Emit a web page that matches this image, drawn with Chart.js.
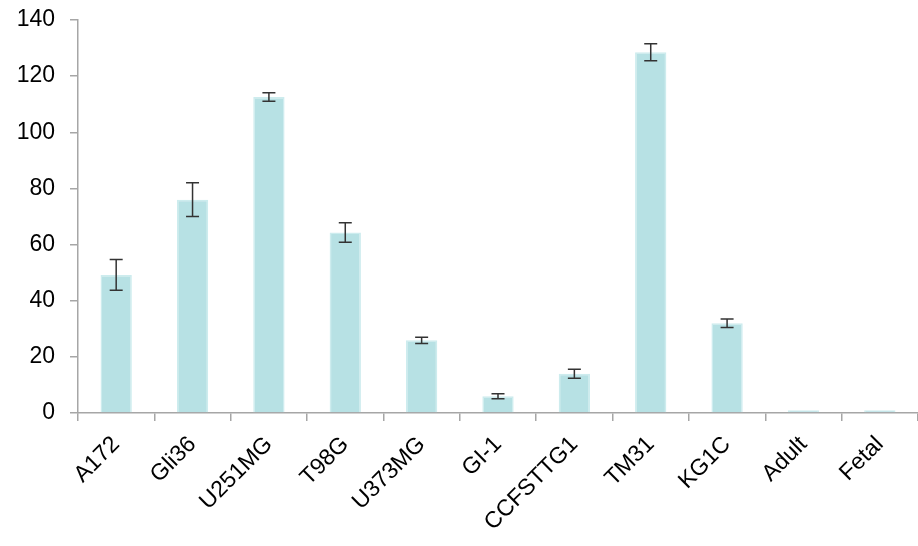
<!DOCTYPE html>
<html>
<head>
<meta charset="utf-8">
<script src="https://cdn.jsdelivr.net/npm/chart.js@4.4.0/dist/chart.umd.min.js"></script>
<style>
    html, body { margin: 0; padding: 0; background: #fff; }
    #wrap { width: 918px; height: 546px; }
</style>
</head>
<body>
<div id="wrap"><canvas id="barChart"></canvas></div>
<script>
// --- data ---
const categories = ['A172', 'Gli36', 'U251MG', 'T98G', 'U373MG', 'GI-1', 'CCFSTTG1', 'TM31', 'KG1C', 'Adult', 'Fetal'];
const values = [49.2, 76, 112.6, 64.3, 25.9, 6, 14, 128.5, 32, 1, 1];
const errors = [5.5, 6, 1.5, 3.5, 1.1, 0.9, 1.6, 3, 1.5, 0, 0];
const yTicks = [0, 20, 40, 60, 80, 100, 120, 140];

const axisColor = '#a6a6a6';
const fontFamily = "'Liberation Sans', Arial, sans-serif";

// --- error bar plugin ---
const errorBars = {
    id: 'errorBars',
    afterDatasetsDraw(chart) {
        const { ctx, scales: { x, y } } = chart;
        ctx.save();
        ctx.strokeStyle = '#333333';
        ctx.lineWidth = 1.5;
        values.forEach((v, i) => {
            const e = errors[i];
            if (!e) return;
            const cx = x.getPixelForValue(i);
            const top = y.getPixelForValue(v + e);
            const bot = y.getPixelForValue(v - e);
            const cap = 6.5;
            ctx.beginPath();
            ctx.moveTo(cx, top); ctx.lineTo(cx, bot);
            ctx.moveTo(cx - cap, top); ctx.lineTo(cx + cap, top);
            ctx.moveTo(cx - cap, bot); ctx.lineTo(cx + cap, bot);
            ctx.stroke();
        });
        ctx.restore();
    }
};

new Chart(document.getElementById('barChart'), {
    type: 'bar',
    data: {
        labels: categories,
        datasets: [{
            data: values,
            backgroundColor: '#b7e1e4',
            borderColor: '#cdecee',
            borderWidth: 1.5,
            categoryPercentage: 1,
            barPercentage: 0.41
        }]
    },
    options: {
        responsive: true,
        maintainAspectRatio: false,
        animation: false,
        layout: { padding: { top: 20, right: 0, left: 0, bottom: 0 } },
        plugins: {
            legend: { display: false },
            tooltip: { enabled: false }
        },
        scales: {
            x: {
                grid: {
                    offset: true,
                    drawOnChartArea: false,
                    color: axisColor,
                    tickLength: 8,
                    lineWidth: 1.5
                },
                border: { color: axisColor, width: 1.5 },
                ticks: {
                    color: '#000',
                    font: { size: 23, family: fontFamily },
                    maxRotation: 45,
                    minRotation: 45,
                    padding: 10,
                    autoSkip: false
                },
                afterFit(scale) {
                    scale.height = 133;
                    scale.paddingLeft = 0;
                    scale.paddingRight = 0;
                }
            },
            y: {
                min: 0,
                max: 140,
                afterBuildTicks(scale) { scale.ticks = yTicks.map(v => ({ value: v })); },
                grid: {
                    drawOnChartArea: false,
                    color: axisColor,
                    tickLength: 8,
                    lineWidth: 1.5
                },
                border: { color: axisColor, width: 1.5 },
                ticks: {
                    color: '#000',
                    font: { size: 23, family: fontFamily },
                    padding: 15
                },
                afterFit(scale) {
                    scale.width = 78;
                    scale.paddingTop = 0;
                    scale.paddingBottom = 0;
                }
            }
        }
    },
    plugins: [errorBars]
});
</script>
</body>
</html>
